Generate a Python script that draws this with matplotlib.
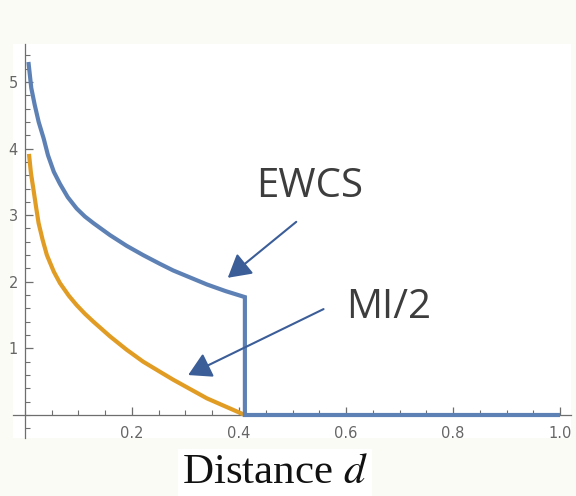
import matplotlib
matplotlib.use("Agg")
from matplotlib import pyplot as plt
from matplotlib.ticker import MultipleLocator

# values
d_ewcs = [0.0065, 0.0118, 0.0181, 0.0256, 0.035, 0.043, 0.054, 0.0654, 0.08, 0.0966,
          0.112, 0.128, 0.159, 0.19, 0.221, 0.252, 0.277, 0.31, 0.34, 0.375, 0.411,
          0.411, 1.0]
ewcs = [5.3, 4.91, 4.66, 4.40, 4.15, 3.90, 3.65, 3.47, 3.27, 3.10,
        2.98, 2.88, 2.70, 2.54, 2.40, 2.27, 2.17, 2.06, 1.96, 1.86, 1.77,
        0.0, 0.0]

d_mi = [0.0075, 0.0112, 0.016, 0.0206, 0.0255, 0.033, 0.041, 0.054, 0.0654, 0.082,
        0.0966, 0.112, 0.128, 0.159, 0.19, 0.221, 0.252, 0.277, 0.34, 0.411]
mi_half = [3.92, 3.63, 3.38, 3.13, 2.88, 2.63, 2.40, 2.15, 1.98, 1.79,
           1.65, 1.52, 1.40, 1.18, 0.98, 0.80, 0.65, 0.53, 0.25, 0.0]

x_ticks = [0.2, 0.4, 0.6, 0.8, 1.0]
y_ticks = [1, 2, 3, 4, 5]

blue = "#5e81b5"
orange = "#e19c24"
arrow_col = "#3b5d98"
axis_col = "#6e6e6e"

fig = plt.figure(figsize=(5.76, 4.96), dpi=100, facecolor="#fbfbf6")
ax = fig.add_axes([0.0229, 0.1163, 0.968, 0.795])
ax.set_facecolor("white")

ax.plot(d_mi, mi_half, color=orange, lw=3, solid_capstyle="butt",
        solid_joinstyle="round", zorder=3)
ax.plot(d_ewcs, ewcs, color=blue, lw=3, solid_capstyle="butt",
        solid_joinstyle="miter", zorder=3)

ax.set_xlim(-0.022, 1.02)
ax.set_ylim(-0.35, 5.57)

# Mathematica-like axes through origin
ax.spines["left"].set_position(("data", 0))
ax.spines["bottom"].set_position(("data", 0))
ax.spines["top"].set_visible(False)
ax.spines["right"].set_visible(False)
for s in ["left", "bottom"]:
    ax.spines[s].set_color(axis_col)
    ax.spines[s].set_linewidth(0.9)

ax.set_xticks(x_ticks)
ax.set_xticklabels(["0.2", "0.4", "0.6", "0.8", "1.0"])
ax.set_yticks(y_ticks)
ax.set_yticklabels([str(v) for v in y_ticks])
ax.xaxis.set_minor_locator(MultipleLocator(0.05))
ax.yaxis.set_minor_locator(MultipleLocator(0.2))
ax.tick_params(which="major", direction="in", length=6, width=0.9, color=axis_col,
               labelsize=10.5, labelcolor="#666666")
ax.tick_params(which="minor", direction="in", length=3.5, width=0.8, color=axis_col)
ax.tick_params(axis="x", pad=8)
ax.tick_params(axis="y", pad=5)

arrow_style = dict(arrowstyle="-|>,head_length=0.7,head_width=0.4",
                   mutation_scale=20, color=arrow_col, lw=1.5,
                   shrinkA=0, shrinkB=0)
ax.annotate("", xy=(0.379, 2.06), xytext=(0.507, 2.90), arrowprops=arrow_style, zorder=4)
ax.annotate("", xy=(0.305, 0.60), xytext=(0.558, 1.59), arrowprops=arrow_style, zorder=4)

ax.text(0.532, 3.43, "EWCS", family="Open Sans", fontsize=29, color="#3d3d3d",
        ha="center", va="center")
ax.text(0.680, 1.61, "MI/2", family="Open Sans", fontsize=29, color="#3d3d3d",
        ha="center", va="center")

plt.rcParams["mathtext.fontset"] = "stix"
fig.text(0.477, 13 / 496, "Distance $d$", family="Liberation Serif", fontsize=31,
         color="#111111", ha="center", va="baseline",
         bbox=dict(facecolor="white", edgecolor="none", pad=3))

plt.savefig("out.png", dpi=100, facecolor=fig.get_facecolor())
